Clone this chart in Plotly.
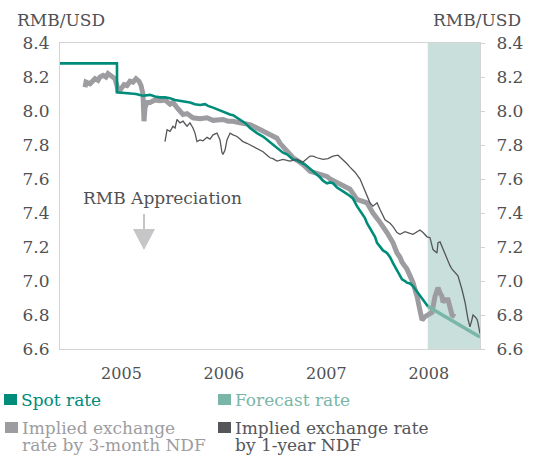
import plotly.graph_objects as go

# ---------------- data (x = decimal year, y = RMB per USD) ----------------
spot_x = [2004.900, 2005.456, 2005.457, 2005.525, 2005.583, 2005.642, 2005.710, 2005.779,
          2005.827, 2005.876, 2005.925, 2005.974, 2006.023, 2006.071, 2006.120, 2006.169,
          2006.218, 2006.267, 2006.316, 2006.345, 2006.394, 2006.433, 2006.481, 2006.530,
          2006.560, 2006.589, 2006.628, 2006.657, 2006.706, 2006.755, 2006.784, 2006.823,
          2006.882, 2006.921, 2006.950, 2006.979, 2007.018, 2007.048, 2007.077, 2007.116,
          2007.145, 2007.175, 2007.214, 2007.243, 2007.272, 2007.292, 2007.341, 2007.370,
          2007.409, 2007.438, 2007.467, 2007.506, 2007.536, 2007.565, 2007.604, 2007.633,
          2007.682, 2007.731, 2007.760, 2007.799, 2007.848, 2007.877, 2007.897, 2007.926,
          2007.946, 2007.975, 2007.995, 2008.024, 2008.053, 2008.092, 2008.122, 2008.151,
          2008.200, 2008.239, 2008.268, 2008.287, 2008.317, 2008.346, 2008.395, 2008.444,
          2008.492]
spot_y = [8.28, 8.28, 8.11, 8.105, 8.10, 8.10, 8.09, 8.095,
          8.085, 8.08, 8.08, 8.075, 8.065, 8.06, 8.055, 8.05,
          8.04, 8.035, 8.04, 8.03, 8.02, 8.01, 8.00, 7.985,
          7.98, 7.975, 7.96, 7.945, 7.93, 7.90, 7.885, 7.87,
          7.85, 7.83, 7.815, 7.80, 7.785, 7.77, 7.755, 7.745,
          7.73, 7.715, 7.71, 7.70, 7.69, 7.685, 7.66, 7.645,
          7.63, 7.61, 7.59, 7.575, 7.58, 7.575, 7.55, 7.54,
          7.52, 7.50, 7.485, 7.44, 7.40, 7.37, 7.34, 7.31,
          7.285, 7.26, 7.225, 7.20, 7.18, 7.165, 7.14, 7.105,
          7.05, 7.01, 7.00, 6.99, 6.985, 6.97, 6.93, 6.89,
          6.85]

forecast_x = [2008.492, 2009.000]
forecast_y = [6.85, 6.67]

ndf3m_x = [2005.144, 2005.154, 2005.193, 2005.242, 2005.271, 2005.290, 2005.320, 2005.349,
           2005.369, 2005.388, 2005.417, 2005.437, 2005.456, 2005.466, 2005.495, 2005.525,
           2005.554, 2005.583, 2005.613, 2005.642, 2005.671, 2005.691, 2005.710, 2005.720,
           2005.730, 2005.749, 2005.779, 2005.827, 2005.876, 2005.925, 2005.974, 2006.003,
           2006.042, 2006.101, 2006.140, 2006.198, 2006.267, 2006.335, 2006.394, 2006.433,
           2006.491, 2006.540, 2006.589, 2006.657, 2006.706, 2006.755, 2006.823, 2006.882,
           2006.921, 2006.950, 2006.979, 2007.018, 2007.048, 2007.077, 2007.116, 2007.145,
           2007.175, 2007.214, 2007.272, 2007.341, 2007.409, 2007.467, 2007.506, 2007.536,
           2007.604, 2007.663, 2007.731, 2007.799, 2007.848, 2007.897, 2007.955, 2007.995,
           2008.024, 2008.092, 2008.122, 2008.151, 2008.190, 2008.219, 2008.239, 2008.287,
           2008.317, 2008.346, 2008.385, 2008.414, 2008.434, 2008.463, 2008.492, 2008.531,
           2008.561, 2008.590, 2008.610, 2008.629, 2008.639, 2008.658, 2008.688, 2008.707,
           2008.727, 2008.756]
ndf3m_y = [8.14, 8.17, 8.16, 8.19, 8.18, 8.20, 8.21, 8.20,
           8.22, 8.21, 8.20, 8.19, 8.15, 8.11, 8.13, 8.155,
           8.15, 8.175, 8.17, 8.19, 8.175, 8.15, 8.10, 7.94,
           8.02, 8.05, 8.05, 8.065, 8.06, 8.065, 8.04, 8.05,
           8.02, 7.98, 7.985, 7.96, 7.955, 7.96, 7.945, 7.95,
           7.95, 7.94, 7.94, 7.93, 7.925, 7.92, 7.90, 7.88,
           7.87, 7.865, 7.85, 7.84, 7.81, 7.79, 7.755, 7.74,
           7.725, 7.71, 7.685, 7.645, 7.63, 7.62, 7.615, 7.60,
           7.58, 7.56, 7.54, 7.48, 7.47, 7.46, 7.40, 7.37,
           7.345, 7.285, 7.255, 7.225, 7.165, 7.14, 7.11, 7.07,
           7.03, 6.99, 6.91, 6.83, 6.77, 6.79, 6.80, 6.815,
           6.91, 6.96, 6.93, 6.91, 6.875, 6.89, 6.89, 6.83,
           6.80, 6.79]

ndf1y_x = [2005.925, 2005.945, 2005.974, 2006.003, 2006.023, 2006.042, 2006.071, 2006.101,
           2006.120, 2006.140, 2006.169, 2006.198, 2006.218, 2006.237, 2006.267, 2006.296,
           2006.335, 2006.364, 2006.394, 2006.433, 2006.462, 2006.481, 2006.491, 2006.511,
           2006.530, 2006.560, 2006.589, 2006.628, 2006.657, 2006.686, 2006.725, 2006.755,
           2006.784, 2006.823, 2006.852, 2006.882, 2006.921, 2006.950, 2006.979, 2007.018,
           2007.077, 2007.145, 2007.214, 2007.272, 2007.341, 2007.370, 2007.409, 2007.467,
           2007.516, 2007.565, 2007.614, 2007.663, 2007.702, 2007.731, 2007.780, 2007.829,
           2007.858, 2007.897, 2007.926, 2007.955, 2007.995, 2008.024, 2008.073, 2008.122,
           2008.151, 2008.190, 2008.219, 2008.268, 2008.287, 2008.317, 2008.346, 2008.385,
           2008.414, 2008.444, 2008.483, 2008.512, 2008.541, 2008.580, 2008.590, 2008.610,
           2008.639, 2008.678, 2008.707, 2008.727, 2008.756, 2008.785, 2008.824, 2008.854,
           2008.883, 2008.902, 2008.922, 2008.932, 2008.951, 2008.971, 2008.980, 2009.000]
ndf1y_y = [7.82, 7.89, 7.88, 7.91, 7.90, 7.95, 7.93, 7.94,
           7.925, 7.91, 7.93, 7.90, 7.87, 7.82, 7.83, 7.825,
           7.845, 7.835, 7.86, 7.87, 7.83, 7.755, 7.745, 7.77,
           7.83, 7.87, 7.86, 7.85, 7.835, 7.82, 7.81, 7.80,
           7.79, 7.775, 7.765, 7.76, 7.74, 7.725, 7.72, 7.705,
           7.715, 7.705, 7.715, 7.70, 7.735, 7.735, 7.725, 7.715,
           7.72, 7.735, 7.74, 7.715, 7.69, 7.67, 7.64, 7.60,
           7.56, 7.50, 7.46, 7.44, 7.46, 7.42, 7.36, 7.34,
           7.32, 7.285, 7.275, 7.29, 7.285, 7.28, 7.275, 7.29,
           7.30, 7.285, 7.26, 7.255, 7.185, 7.165, 7.225, 7.23,
           7.185, 7.125, 7.09, 7.07, 7.05, 7.03, 6.95, 6.875,
           6.775, 6.73, 6.775, 6.80, 6.79, 6.775, 6.755, 6.69]

year_ticks = [2005.5, 2006.5, 2007.5, 2008.5]
year_labels = ["2005", "2006", "2007", "2008"]
y_ticks = [6.6, 6.8, 7.0, 7.2, 7.4, 7.6, 7.8, 8.0, 8.2, 8.4]
y_labels = ["6.6", "6.8", "7.0", "7.2", "7.4", "7.6", "7.8", "8.0", "8.2", "8.4"]
forecast_period = [2008.49, 2009.0]

# ---------------- styles ----------------
FONT = "DejaVu Serif"
TXT = "#505153"
C_SPOT = "#008C7A"
C_FC = "#7AB6A8"
C_3M = "#9D9DA1"
C_1Y = "#55565A"
C_SHADE = "#C8DFDB"
C_AXIS = "#D3D3D3"

fig = go.Figure()
fig.add_trace(go.Scatter(x=ndf3m_x, y=ndf3m_y, mode="lines",
                         line=dict(color=C_3M, width=5), showlegend=False))
fig.add_trace(go.Scatter(x=spot_x, y=spot_y, mode="lines",
                         line=dict(color=C_SPOT, width=2.6), showlegend=False))
fig.add_trace(go.Scatter(x=ndf1y_x, y=ndf1y_y, mode="lines",
                         line=dict(color=C_1Y, width=1.3), showlegend=False))
fig.add_trace(go.Scatter(x=forecast_x, y=forecast_y, mode="lines", yaxis="y2",
                         line=dict(color=C_FC, width=3.5), showlegend=False))

fig.add_shape(type="rect", xref="x", yref="paper", x0=forecast_period[0], x1=forecast_period[1],
              y0=0, y1=1, fillcolor=C_SHADE, line=dict(width=0), layer="below")

# arrow for "RMB Appreciation"
fig.add_shape(type="line", xref="paper", yref="paper", x0=0.2, x1=0.2, y0=0.441, y1=0.389,
              line=dict(color="#C6C6C8", width=2))
fig.add_shape(type="path", xref="paper", yref="paper",
              path="M 0.1738 0.3922 L 0.2262 0.3922 L 0.2 0.3235 Z",
              fillcolor="#C6C6C8", line=dict(width=0))

ann = []
ann.append(dict(text="RMB Appreciation", xref="paper", yref="paper", x=0.244, y=0.4935,
                xanchor="center", yanchor="middle", showarrow=False,
                font=dict(family=FONT, size=17, color=TXT)))
ann.append(dict(text="RMB/USD", xref="paper", yref="paper", x=-0.107, y=1.075,
                xanchor="left", yanchor="middle", showarrow=False,
                font=dict(family=FONT, size=17, color=TXT)))
ann.append(dict(text="RMB/USD", xref="paper", yref="paper", x=1.102, y=1.075,
                xanchor="right", yanchor="middle", showarrow=False,
                font=dict(family=FONT, size=17, color=TXT)))

# legend (manual)
legend_items = [
    ("Spot rate", C_SPOT, 4, 394, ["Spot rate"]),
    ("Forecast rate", C_FC, 218, 394, ["Forecast rate"]),
    ("3m", C_3M, 5, 422, ["Implied exchange", "rate by 3-month NDF"]),
    ("1y", C_1Y, 218, 422, ["Implied exchange rate", "by 1-year NDF"]),
]
L, T, W, H = 60, 43, 420, 306


def px2paper(px, py):
    return (px - L) / W, (T + H - py) / H


for name, col, sx, sy, lines in legend_items:
    x0, y0 = px2paper(sx, sy)
    x1, y1 = px2paper(sx + 13, sy + 11)
    fig.add_shape(type="rect", xref="paper", yref="paper", x0=x0, x1=x1, y0=y1, y1=y0,
                  fillcolor=col, line=dict(width=0))
    for i, t in enumerate(lines):
        tx, ty = px2paper(sx + 16, sy + 6 + 16.5 * i)
        ann.append(dict(text=t, xref="paper", yref="paper", x=tx, y=ty,
                        xanchor="left", yanchor="middle", showarrow=False,
                        borderpad=0,
                        font=dict(family=FONT, size=17, color=col)))

fig.update_layout(
    width=536, height=455,
    margin=dict(l=L, r=536 - L - W, t=T, b=455 - T - H),
    paper_bgcolor="white", plot_bgcolor="white",
    showlegend=False,
    font=dict(family=FONT, size=17, color=TXT),
    annotations=ann,
    xaxis=dict(range=[2004.9, 2009.0], tickvals=year_ticks, ticktext=year_labels,
               showgrid=False, zeroline=False, showline=True, linecolor=C_AXIS,
               linewidth=1, mirror=True, ticks="", ticklabelstandoff=10,
               tickfont=dict(family=FONT, size=16, color=TXT)),
    yaxis=dict(range=[6.6, 8.4], tickvals=y_ticks, ticktext=y_labels,
               showgrid=False, zeroline=False, showline=True, linecolor=C_AXIS,
               linewidth=1, ticks="", ticklabelstandoff=6,
               tickfont=dict(family=FONT, size=17, color=TXT)),
    yaxis2=dict(range=[6.6, 8.4], tickvals=y_ticks, ticktext=y_labels, overlaying="y",
                side="right", showgrid=False, zeroline=False, showline=True,
                linecolor=C_AXIS, linewidth=1, ticks="outside", ticklen=4,
                tickcolor=C_AXIS, ticklabelstandoff=8,
                tickfont=dict(family=FONT, size=17, color=TXT)),
)

fig.write_html("out.html", config={"displayModeBar": False},
               post_script="document.body.style.margin='0';")
